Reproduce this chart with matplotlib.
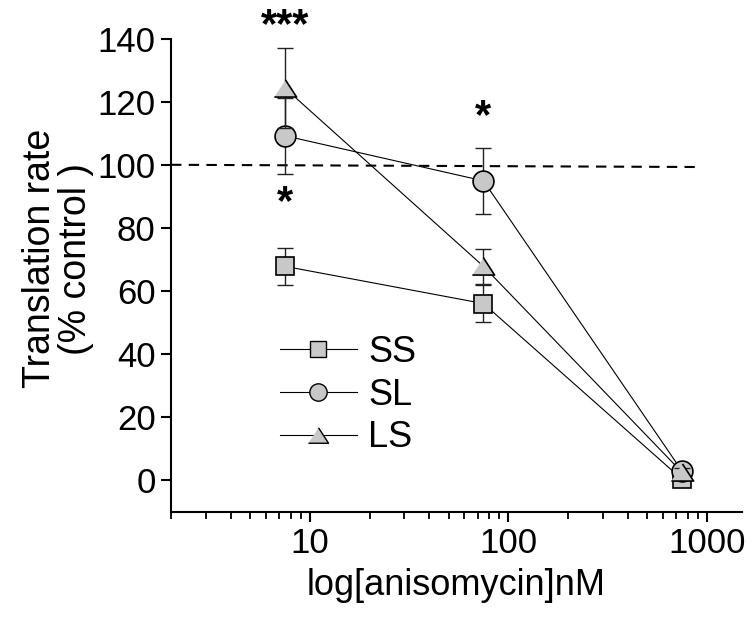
import matplotlib
matplotlib.use("Agg")
import matplotlib.pyplot as plt
import numpy as np

plt.rcParams["font.family"] = ["Liberation Sans", "DejaVu Sans"]

# ------------------------------------------------------------
# Data
# ------------------------------------------------------------
conc = [7.5, 75, 750]

ss_mean = [67.8, 56.0, 0.3]
ss_err = [5.9, 6.0, 1.0]

sl_mean = [109.2, 94.9, 2.9]
sl_err = [12.0, 10.4, 1.0]

ls_mean = [124.3, 67.8, 2.5]
ls_err = [12.6, 5.5, 1.5]

control_x = [2, 870]
control_y = [100, 99.3]

stars_x = [7.5, 7.5, 75]
stars_y = [144, 88, 115]
stars_txt = ["***", "*", "*"]

# ------------------------------------------------------------
# Figure
# ------------------------------------------------------------
fig = plt.figure(figsize=(7.51, 6.19), dpi=100)
ax = fig.add_axes([0.2277, 0.1733, 0.76, 0.7643])

face = "#c8c8c8"
tri = [(-1, -0.77), (1, -0.77), (0, 0.77)]

series = [
    ("SS", ss_mean, ss_err, "s", 12.5, 11),
    ("SL", sl_mean, sl_err, "o", 15, 12.5),
    ("LS", ls_mean, ls_err, tri, 16, 14.5),
]

for i, (label, mean, err, marker, ms, _) in enumerate(series):
    z = 3 + 3 * i
    ax.plot(conc, mean, color="black", lw=0.8, zorder=2)
    ax.errorbar(conc, mean, yerr=err, fmt="none", ecolor="#222222",
                elinewidth=1.0, capsize=6, capthick=1.0, zorder=z)
    ax.plot(conc, mean, ls="none", marker=marker, ms=ms,
            mfc=face, mec="black", mew=1.2, zorder=z + 1)

ax.plot(control_x, control_y, color="black", lw=1.5, ls=(0, (5, 3.5)), zorder=1)

for x, y, t in zip(stars_x, stars_y, stars_txt):
    ax.text(x, y, t, ha="center", va="center", fontsize=30,
            fontweight="bold", clip_on=False)

# legend built from proxy handles
handles = [
    plt.Line2D([], [], color="black", lw=0.8, marker=m, ms=lms, mfc=face,
               mec="black", mew=1.0)
    for _, _, _, m, _, lms in series
]
leg = ax.legend(handles, [s[0] for s in series], loc="upper left",
                bbox_to_anchor=(0.165, 0.405), frameon=False, fontsize=26,
                handlelength=2.15, handletextpad=0.3, labelspacing=0.22,
                numpoints=1, borderaxespad=0)

ax.set_xscale("log")
ax.set_xlim(2, 1500)
ax.set_ylim(-10, 140)
ax.set_yticks(np.arange(0, 141, 20))
ax.set_xticks([10, 100, 1000])
ax.set_xticklabels(["10", "100", "1000"])

for side in ("top", "right"):
    ax.spines[side].set_visible(False)
for side in ("left", "bottom"):
    ax.spines[side].set_linewidth(1.5)

ax.tick_params(axis="both", which="major", length=7, width=1.5,
               labelsize=25, pad=4)
ax.tick_params(axis="x", which="minor", length=5, width=1.3)

ax.set_xlabel("log[anisomycin]nM", fontsize=26, labelpad=6)
ax.set_ylabel("Translation rate\n(% control )", fontsize=27,
              linespacing=1.0)
ax.yaxis.set_label_coords(-0.135, 0.535)

fig.savefig("out.png", dpi=100)
